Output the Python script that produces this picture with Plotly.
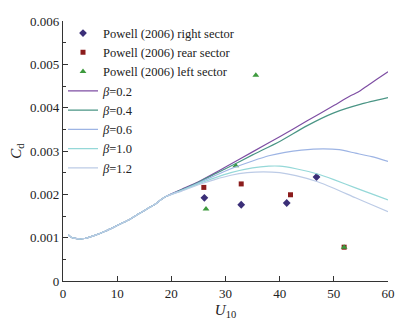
import plotly.graph_objects as go

# ---- data ----
right_u = [26.1, 32.9, 41.3, 46.8]
right_cd = [0.00192, 0.00176, 0.00180, 0.00240]
rear_u = [26.0, 32.9, 42.0, 51.9]
rear_cd = [0.00216, 0.00224, 0.00199, 0.00078]
left_u = [26.4, 31.9, 35.6, 51.9]
left_cd = [0.00166, 0.00266, 0.00475, 0.00078]

common_u = [1.0, 1.5, 2.0, 3.0, 4.0, 6.0, 8.0, 10.0, 12.0, 14.0, 16.0, 17.0, 18.0, 19.0]
common_cd = [0.00106, 0.00101, 0.00099, 0.00097, 0.00098, 0.00106, 0.00116, 0.00128,
             0.00140, 0.00155, 0.00170, 0.00177, 0.00187, 0.00195]

b02_u = [22, 25, 28, 30, 35, 40, 45, 50, 53, 54.5, 56, 58, 60]
b02_cd = [0.00212, 0.00229, 0.00249, 0.00263, 0.00298, 0.00333, 0.00369, 0.00405,
          0.00427, 0.00436, 0.00449, 0.00466, 0.00483]
b04_u = [22, 25, 28, 30, 35, 40, 45, 50, 55, 60]
b04_cd = [0.00211, 0.00228, 0.00247, 0.00259, 0.00291, 0.00322, 0.00358, 0.00388, 0.00408, 0.00423]
b06_u = [22, 25, 28, 31, 35, 38, 41, 44, 48, 51, 54, 57, 60]
b06_cd = [0.00210, 0.00226, 0.00243, 0.00259, 0.00277, 0.00289, 0.00297, 0.00302, 0.00305,
          0.00303, 0.00295, 0.00287, 0.00276]
b10_u = [22, 25, 28, 31, 35, 38, 40, 43, 47, 50, 54, 57, 60]
b10_cd = [0.00209, 0.00224, 0.00238, 0.00250, 0.00261, 0.00265, 0.00265, 0.00259, 0.00247,
          0.00234, 0.00215, 0.00201, 0.00187]
b12_u = [22, 25, 28, 31, 34, 37, 40, 43, 47, 50, 54, 57, 60]
b12_cd = [0.00208, 0.00222, 0.00234, 0.00244, 0.00250, 0.00252, 0.00250, 0.00243, 0.00229,
          0.00214, 0.00192, 0.00176, 0.00160]

x_ticks = [0, 10, 20, 30, 40, 50, 60]
y_ticks = [0, 0.001, 0.002, 0.003, 0.004, 0.005, 0.006]
y_ticktext = ["0", "0.001", "0.002", "0.003", "0.004", "0.005", "0.006"]

FONT = "Liberation Serif"

fig = go.Figure()

fig.add_trace(go.Scatter(x=right_u, y=right_cd, mode="markers", name="Powell (2006) right sector",
                         marker=dict(symbol="diamond", size=6, color="#3b2f78")))
fig.add_trace(go.Scatter(x=rear_u, y=rear_cd, mode="markers", name="Powell (2006) rear sector",
                         marker=dict(symbol="square", size=5, color="#8b1c1c")))
fig.add_trace(go.Scatter(x=left_u, y=left_cd, mode="markers", name="Powell (2006) left sector",
                         marker=dict(symbol="triangle-up", size=6, color="#3d9a3d")))

lines = [
    ("<i>β</i>=0.2", b02_u, b02_cd, "#7e4ea3"),
    ("<i>β</i>=0.4", b04_u, b04_cd, "#4a9585"),
    ("<i>β</i>=0.6", b06_u, b06_cd, "#9db4e4"),
    ("<i>β</i>=1.0", b10_u, b10_cd, "#95d8d8"),
    ("<i>β</i>=1.2", b12_u, b12_cd, "#bccbe6"),
]
for name, u, cd, col in lines:
    fig.add_trace(go.Scatter(x=common_u + u, y=common_cd + cd, mode="lines", name=name,
                             line=dict(color=col, width=1.2, shape="spline", smoothing=0.6)))

# page body has an 8px margin, so the figure is sized/offset to compensate
fig.update_layout(
    width=397, height=318,
    margin=dict(l=55, r=17, t=13, b=45, autoexpand=False),
    paper_bgcolor="white", plot_bgcolor="white",
    font=dict(family=FONT, size=13, color="#222"),
    showlegend=True,
    legend=dict(x=0.0, y=1.01, xanchor="left", yanchor="top", bgcolor="rgba(0,0,0,0)",
                font=dict(family=FONT, size=12.5, color="#222"), itemwidth=30,
                tracegroupgap=0, maxheight=400),
)
fig.update_xaxes(range=[0, 60], tickvals=x_ticks, ticks="inside", ticklen=5, tickwidth=1,
                 tickcolor="#333", showline=True, linecolor="#333", linewidth=1.3,
                 showgrid=False, zeroline=False, mirror=False, automargin=False,
                 tickfont=dict(family=FONT, size=13),
                 title=dict(text="<i>U</i><sub>10</sub>", standoff=4,
                            font=dict(family=FONT, size=15)))
fig.update_yaxes(range=[0, 0.006], tickvals=y_ticks, ticktext=y_ticktext, ticks="inside",
                 ticklen=5, tickwidth=1, tickcolor="#333", showline=True, linecolor="#333",
                 linewidth=1.3, showgrid=False, zeroline=False, automargin=False,
                 tickfont=dict(family=FONT, size=13),
                 minor=dict(ticks="inside", ticklen=3, tickcolor="#333", dtick=0.0005,
                            showgrid=False),
                 title=dict(text="<i>C</i><sub>d</sub>", standoff=4,
                            font=dict(family=FONT, size=15)))

fig.write_html("out.html")
